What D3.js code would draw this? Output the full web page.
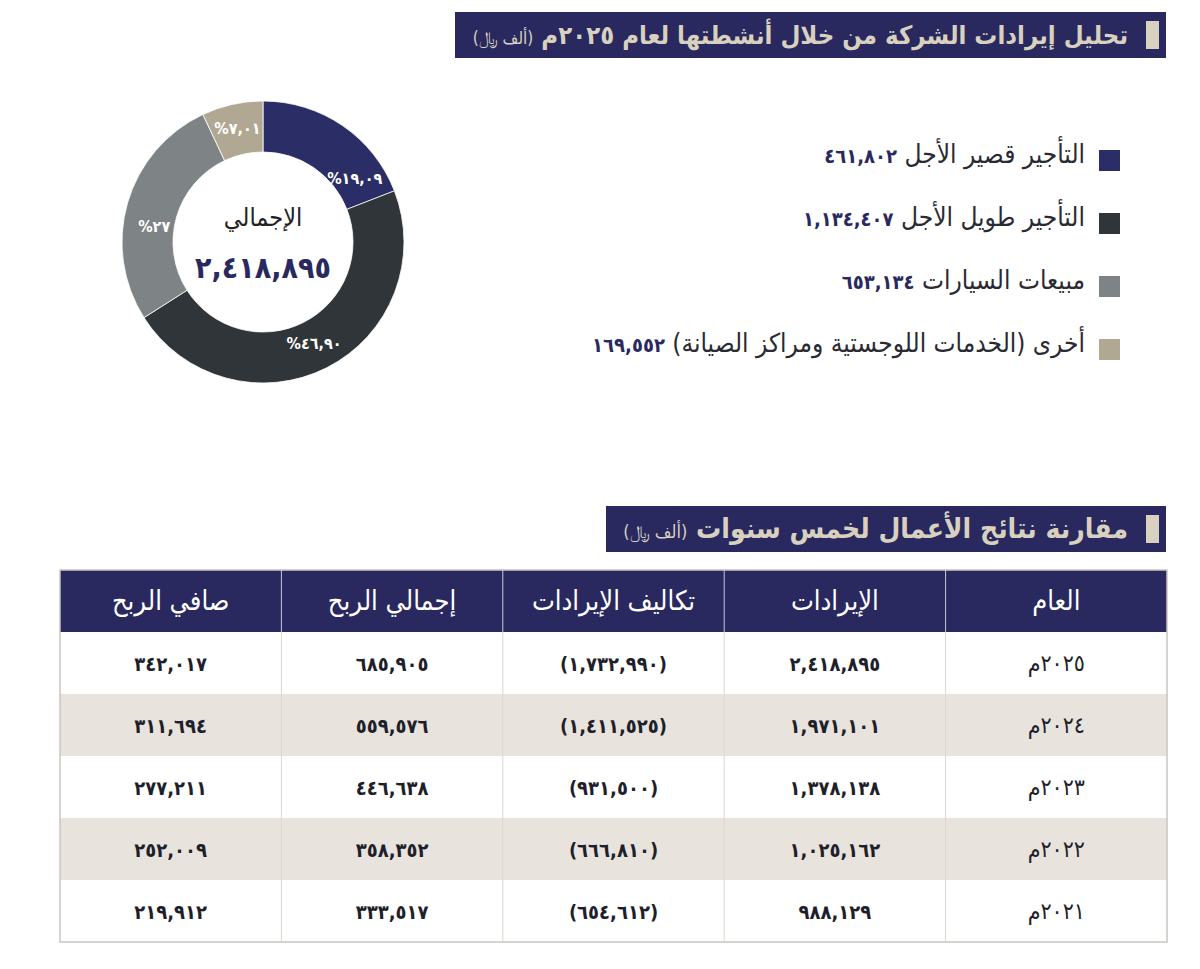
<!DOCTYPE html>
<html lang="ar">
<head>
<meta charset="utf-8">
<script src="https://cdn.jsdelivr.net/npm/d3@7"></script>
<style>
  html,body{margin:0;padding:0;background:#fff;}
  svg{display:block;font-family:"DejaVu Sans Condensed","DejaVu Sans","Noto Sans",sans-serif;}
</style>
</head>
<body>
<svg id="chart" width="1200" height="969"></svg>
<script>
// ---------- DATA ----------
const donutTitle = "تحليل إيرادات الشركة من خلال أنشطتها لعام ٢٠٢٥م";
const unitLabel = "(ألف ﷼)";
const segmentNames = [
  "التأجير قصير الأجل",
  "التأجير طويل الأجل",
  "مبيعات السيارات",
  "أخرى (الخدمات اللوجستية ومراكز الصيانة)"
];
const segmentValues = [461802, 1134407, 653134, 169552];
const segmentPctLabels = ["١٩,٠٩", "٤٦,٩٠", "٢٧", "٧,٠١"];
const totalLabel = "الإجمالي";

const tableTitle = "مقارنة نتائج الأعمال لخمس سنوات";
const columnHeaders = ["العام", "الإيرادات", "تكاليف الإيرادات", "إجمالي الربح", "صافي الربح"];
const years = ["٢٠٢٥م", "٢٠٢٤م", "٢٠٢٣م", "٢٠٢٢م", "٢٠٢١م"];
const revenues = [2418895, 1971101, 1378138, 1025162, 988129];
const revenueCosts = [1732990, 1411525, 931500, 666810, 654612];
const grossProfits = [685905, 559576, 446638, 358352, 333517];
const netProfits = [342017, 311694, 277211, 252009, 219912];

// ---------- STYLE ----------
const navy = "#29295f";
const segColors = ["#2a2d66", "#2f3538", "#7e8386", "#b0a893"];
const beige = "#d8d1bf";
const stripe = "#e8e4dd";
const gridCol = "#dcd8d0";

const arDigits = s => String(s).replace(/[0-9]/g, d => "٠١٢٣٤٥٦٧٨٩"[+d]);
const fmt = v => arDigits(d3.format(",")(v));

const svg = d3.select("#chart");
svg.append("rect").attr("width", 1200).attr("height", 969).attr("fill", "#fff");

// ---------- Title bars ----------
function titleBar(x0, x1, y0, h, text, size, unitSize) {
  const g = svg.append("g");
  g.append("rect").attr("x", x0).attr("y", y0).attr("width", x1 - x0).attr("height", h).attr("fill", navy);
  g.append("rect").attr("x", x1 - 20).attr("y", y0 + 9).attr("width", 13).attr("height", h - 18).attr("fill", beige);
  const t = g.append("text")
    .attr("x", x1 - 38).attr("y", y0 + h / 2 + 9)
    .attr("direction", "rtl").attr("text-anchor", "start")
    .attr("fill", beige).attr("font-weight", "bold").attr("font-size", size);
  t.append("tspan").text(text + " ");
  t.append("tspan").attr("font-size", unitSize).attr("font-weight", "normal").text(unitLabel);
}
titleBar(455, 1166, 12, 46, donutTitle, 25.5, 17);
titleBar(606, 1166, 506, 46, tableTitle, 28, 18);

// ---------- Donut ----------
const cx = 263, cy = 242, rOuter = 141, rInner = 90;
const total = d3.sum(segmentValues);
const pie = d3.pie().sort(null).value(d => d)(segmentValues);
const arc = d3.arc().innerRadius(rInner).outerRadius(rOuter);
const dg = svg.append("g").attr("transform", `translate(${cx},${cy})`);
dg.selectAll("path").data(pie).join("path")
  .attr("d", arc).attr("fill", (d, i) => segColors[i])
  .attr("stroke", "#fff").attr("stroke-width", 0.8);

const labelBias = [0.80, 0.5, 0.42, 0.5];
const labelR = [112, 113, 110, 117];
dg.selectAll("text.pct").data(pie).join("text").attr("class", "pct")
  .attr("x", (d, i) => { const a = d.startAngle + (d.endAngle - d.startAngle) * labelBias[i]; return Math.sin(a) * labelR[i]; })
  .attr("y", (d, i) => { const a = d.startAngle + (d.endAngle - d.startAngle) * labelBias[i]; return -Math.cos(a) * labelR[i] + 6; })
  .attr("text-anchor", "middle").attr("direction", "ltr")
  .attr("fill", "#fff").attr("font-weight", "bold").attr("font-size", 16)
  .text((d, i) => "%" + segmentPctLabels[i]);

dg.append("text").attr("y", -16).attr("text-anchor", "middle").attr("direction", "rtl")
  .attr("fill", "#222").attr("font-size", 25).text(totalLabel);
dg.append("text").attr("y", 36).attr("text-anchor", "middle").attr("direction", "ltr")
  .attr("fill", navy).attr("font-weight", "bold").attr("font-size", 30).text(fmt(total));

// ---------- Legend ----------
const legY = d3.scalePoint().domain(d3.range(segmentNames.length)).range([150, 339]);
const lg = svg.append("g");
segmentNames.forEach((name, i) => {
  const y = legY(i);
  lg.append("rect").attr("x", 1099).attr("y", y).attr("width", 21).attr("height", 21).attr("fill", segColors[i]);
  const t = lg.append("text").attr("x", 1085).attr("y", y + 13)
    .attr("direction", "rtl").attr("text-anchor", "start").attr("font-size", 26).attr("fill", "#2a2a33");
  t.append("tspan").text(name + " ");
  t.append("tspan").attr("font-weight", "bold").attr("fill", navy).attr("font-size", 20).text(fmt(segmentValues[i]));
});

// ---------- Table ----------
const tX0 = 60, tX1 = 1167, headY = 570, headH = 62, rowH = 62;
const colX = d3.scaleBand().domain(d3.range(columnHeaders.length)).range([tX1, tX0]); // RTL: first column on the right
const rows = years.map((y, i) => [
  y,
  fmt(revenues[i]),
  "(" + fmt(revenueCosts[i]) + ")",
  fmt(grossProfits[i]),
  fmt(netProfits[i])
]);
const rowY = d3.scaleBand().domain(d3.range(rows.length)).range([headY + headH, headY + headH + rowH * rows.length]);
const tg = svg.append("g");

// header
tg.append("rect").attr("x", tX0).attr("y", headY).attr("width", tX1 - tX0).attr("height", headH).attr("fill", navy);
columnHeaders.forEach((h, j) => {
  tg.append("text").attr("x", colX(j) + colX.bandwidth() / 2).attr("y", headY + headH / 2 + 9)
    .attr("text-anchor", "middle").attr("direction", "rtl").attr("fill", "#fff").attr("font-size", 27).text(h);
});
// body
rows.forEach((r, i) => {
  const y = rowY(i);
  tg.append("rect").attr("x", tX0).attr("y", y).attr("width", tX1 - tX0).attr("height", rowY.bandwidth())
    .attr("fill", i % 2 === 1 ? stripe : "#fff");
  r.forEach((c, j) => {
    const xc = colX(j) + colX.bandwidth() / 2;
    tg.append("text").attr("x", xc).attr("y", y + rowY.bandwidth() / 2 + 8)
      .attr("text-anchor", "middle").attr("direction", j === 0 ? "rtl" : "ltr")
      .attr("fill", "#1f1f2b")
      .attr("font-weight", j === 0 ? "normal" : "bold")
      .attr("font-size", j === 0 ? 23 : 20).text(c);
  });
});
// grid lines
d3.range(1, columnHeaders.length).forEach(j => {
  const x = colX(j) + colX.bandwidth();
  tg.append("line").attr("x1", x).attr("x2", x).attr("y1", headY).attr("y2", headY + headH)
    .attr("stroke", "#c9c9d6").attr("stroke-width", 1);
  tg.append("line").attr("x1", x).attr("x2", x).attr("y1", headY + headH).attr("y2", rowY.range()[1])
    .attr("stroke", gridCol).attr("stroke-width", 1);
});
tg.append("rect").attr("x", tX0).attr("y", headY).attr("width", tX1 - tX0).attr("height", rowY.range()[1] - headY)
  .attr("fill", "none").attr("stroke", "#c8c6c0").attr("stroke-width", 1.5);
</script>
</body>
</html>
